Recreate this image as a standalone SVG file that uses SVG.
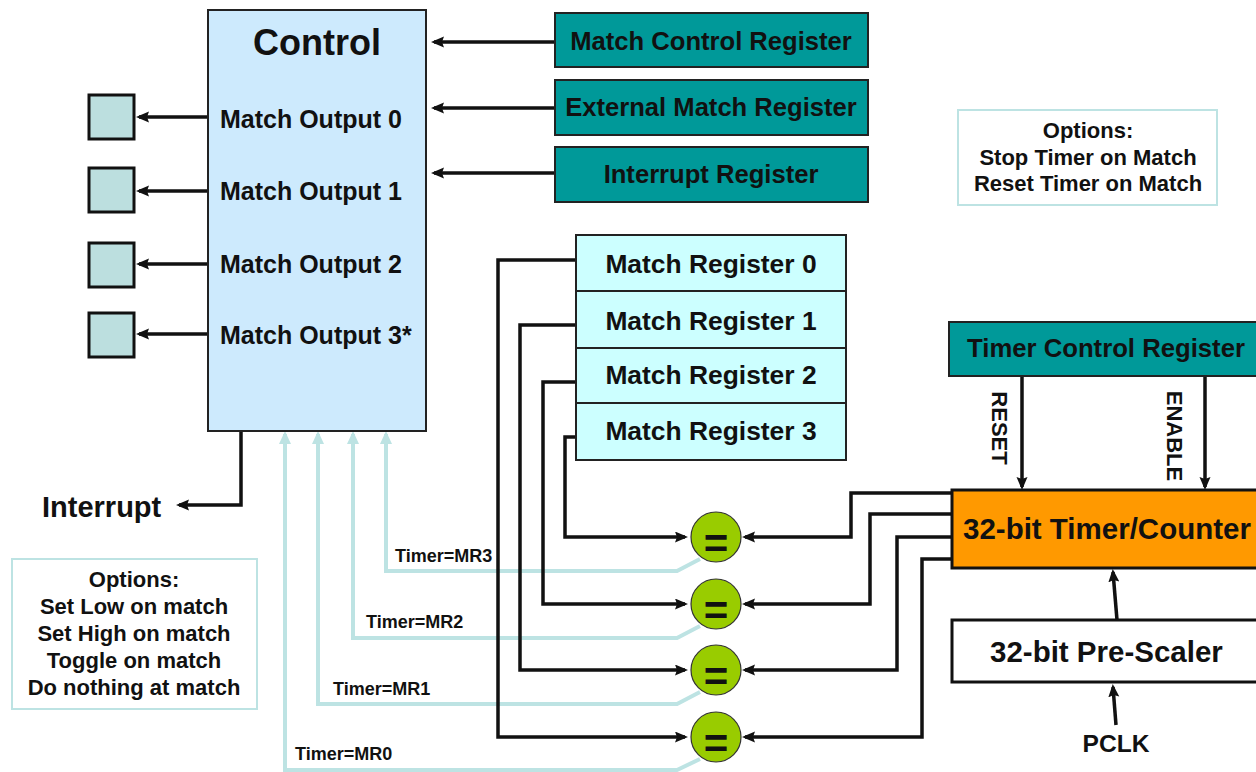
<svg xmlns="http://www.w3.org/2000/svg" width="1256" height="772" viewBox="0 0 1256 772">
  <style>
    text { font-family: "Liberation Sans", Arial, sans-serif; font-weight: bold; fill: #111; }
    .mid { text-anchor: middle; }
    .box { stroke: #222; stroke-width: 2; }
    .reg { fill: #009999; }
    .mreg { fill: #ccffff; }
    .pin { fill: #bcdfdf; stroke: #111; stroke-width: 3; }
    .cmp { fill: #99cc00; stroke: #333; stroke-width: 1.2; }
    .wire { fill: none; stroke: #111; stroke-width: 3.5; stroke-linejoin: miter; marker-end: url(#ah); }
    .tap { fill: none; stroke: #bde3e3; stroke-width: 4; marker-end: url(#ahl); }
    .note { fill: #fff; stroke: #bde3e3; stroke-width: 2; }
    .lbl { font-size: 22px; }
    .eq { font-size: 42px; }
  </style>
  <defs>
    <marker id="ah" markerUnits="userSpaceOnUse" markerWidth="15" markerHeight="12" refX="10" refY="5.5" orient="auto">
      <path d="M0,0 L13,5.5 L0,11 L2,5.5 z" fill="#111"/>
    </marker>
    <marker id="ahl" markerUnits="userSpaceOnUse" markerWidth="16" markerHeight="14" refX="10" refY="6" orient="auto">
      <path d="M0,0 L13,6 L0,12 z" fill="#bde3e3"/>
    </marker>
  </defs>

  <rect width="1256" height="772" fill="#fff"/>

  <!-- connectors -->
  <g id="connectors">
    <!-- comparator results back to the control block -->
    <path class="tap" d="M700,559 L677,571 H386 V434"/>
    <path class="tap" d="M700,626 L677,638 H353 V434"/>
    <path class="tap" d="M700,692 L677,704 H318 V434"/>
    <path class="tap" d="M700,759 L677,770 H285 V434"/>

    <!-- match outputs to pins -->
    <path class="wire" d="M208,117 H139"/>
    <path class="wire" d="M208,191 H139"/>
    <path class="wire" d="M208,264 H139"/>
    <path class="wire" d="M208,334 H139"/>

    <!-- config registers into control -->
    <path class="wire" d="M555,42 H434"/>
    <path class="wire" d="M555,108 H434"/>
    <path class="wire" d="M555,173 H434"/>

    <!-- interrupt out -->
    <path class="wire" d="M241,431 V505 H179"/>

    <!-- match registers to comparators -->
    <path class="wire" d="M576,260 H498 V737 H685"/>
    <path class="wire" d="M576,325 H520 V670 H685"/>
    <path class="wire" d="M576,382 H543 V604 H685"/>
    <path class="wire" d="M576,437 H565 V537 H685"/>

    <!-- timer value to comparators -->
    <path class="wire" d="M952,493 H851 V537 H745"/>
    <path class="wire" d="M952,514 H870 V604 H745"/>
    <path class="wire" d="M952,537 H897 V670 H745"/>
    <path class="wire" d="M952,559 H922 V737 H745"/>

    <!-- timer control -->
    <path class="wire" d="M1022,376 V487"/>
    <path class="wire" d="M1205,376 V487"/>

    <!-- clock chain -->
    <path class="wire" d="M1117,620 L1113,572"/>
    <path class="wire" d="M1116,725 L1113,687"/>

    <text x="395" y="562" font-size="18">Timer=MR3</text>
    <text x="366" y="628" font-size="18">Timer=MR2</text>
    <text x="333" y="695" font-size="18">Timer=MR1</text>
    <text x="295" y="760" font-size="18">Timer=MR0</text>
    <text transform="translate(992,428) rotate(90)" class="mid" font-size="22" font-weight="normal">RESET</text>
    <text transform="translate(1167,436) rotate(90)" class="mid" font-size="22" font-weight="normal">ENABLE</text>
  </g>

  <!-- control block -->
  <g id="control">
    <rect class="box" x="208" y="10" width="218" height="421" fill="#cdeafd"/>
    <text x="317" y="55" class="mid" font-size="36">Control</text>
    <text x="220" y="128" font-size="25">Match Output 0</text>
    <text x="220" y="200" font-size="25">Match Output 1</text>
    <text x="220" y="273" font-size="25">Match Output 2</text>
    <text x="220" y="344" font-size="25">Match Output 3*</text>
  </g>

  <!-- output pins -->
  <g id="pin0"><rect class="pin" x="89" y="95" width="45" height="44"/></g>
  <g id="pin1"><rect class="pin" x="89" y="168" width="45" height="44"/></g>
  <g id="pin2"><rect class="pin" x="89" y="243" width="45" height="44"/></g>
  <g id="pin3"><rect class="pin" x="89" y="313" width="45" height="44"/></g>

  <g id="interrupt">
    <text x="42" y="517" font-size="29">Interrupt</text>
  </g>

  <!-- configuration registers -->
  <g id="match-control-register">
    <rect class="box reg" x="555" y="13" width="313" height="54"/>
    <text x="711" y="50" class="mid" font-size="25.6">Match Control Register</text>
  </g>
  <g id="external-match-register">
    <rect class="box reg" x="555" y="80" width="313" height="55"/>
    <text x="711" y="116" class="mid" font-size="25.6">External Match Register</text>
  </g>
  <g id="interrupt-register">
    <rect class="box reg" x="555" y="147" width="313" height="55"/>
    <text x="711" y="183" class="mid" font-size="25.6">Interrupt Register</text>
  </g>

  <g id="timer-options">
    <rect class="note" x="958" y="110" width="259" height="95"/>
    <text x="1088" y="138" class="mid lbl">Options:</text>
    <text x="1088" y="165" class="mid lbl">Stop Timer on Match</text>
    <text x="1088" y="191" class="mid lbl">Reset Timer on Match</text>
  </g>

  <!-- match registers -->
  <g id="match-register-0">
    <rect class="box mreg" x="576" y="235" width="270" height="56"/>
    <text x="711" y="273" class="mid" font-size="26.4">Match Register 0</text>
  </g>
  <g id="match-register-1">
    <rect class="box mreg" x="576" y="291" width="270" height="57"/>
    <text x="711" y="330" class="mid" font-size="26.4">Match Register 1</text>
  </g>
  <g id="match-register-2">
    <rect class="box mreg" x="576" y="348" width="270" height="55"/>
    <text x="711" y="384" class="mid" font-size="26.4">Match Register 2</text>
  </g>
  <g id="match-register-3">
    <rect class="box mreg" x="576" y="403" width="270" height="57"/>
    <text x="711" y="440" class="mid" font-size="26.4">Match Register 3</text>
  </g>

  <!-- comparators -->
  <g id="cmp3"><circle class="cmp" cx="716" cy="537" r="25"/><text x="716" y="558" class="mid eq">=</text></g>
  <g id="cmp2"><circle class="cmp" cx="716" cy="604" r="25"/><text x="716" y="625" class="mid eq">=</text></g>
  <g id="cmp1"><circle class="cmp" cx="716" cy="670" r="25"/><text x="716" y="691" class="mid eq">=</text></g>
  <g id="cmp0"><circle class="cmp" cx="716" cy="737" r="25"/><text x="716" y="758" class="mid eq">=</text></g>

  <g id="match-options">
    <rect class="note" x="12" y="559" width="245" height="150"/>
    <text x="134" y="587" class="mid lbl">Options:</text>
    <text x="134" y="614" class="mid lbl">Set Low on match</text>
    <text x="134" y="641" class="mid lbl">Set High on match</text>
    <text x="134" y="668" class="mid lbl">Toggle on match</text>
    <text x="134" y="695" class="mid lbl">Do nothing at match</text>
  </g>

  <!-- timer section -->
  <g id="timer-control-register">
    <rect class="box reg" x="949" y="322" width="320" height="54"/>
    <text x="1106" y="357" class="mid" font-size="25.7">Timer Control Register</text>
  </g>
  <g id="timer-counter">
    <rect x="952" y="490" width="320" height="78" fill="#ff9900" stroke="#111" stroke-width="3"/>
    <text x="963" y="539" font-size="29.5">32-bit Timer/Counter</text>
  </g>
  <g id="prescaler">
    <rect x="952" y="620" width="320" height="62" fill="#fff" stroke="#111" stroke-width="3"/>
    <text x="990" y="662" font-size="29.5">32-bit Pre-Scaler</text>
  </g>
  <g id="pclk">
    <text x="1116" y="752" class="mid" font-size="24.6">PCLK</text>
  </g>
</svg>
